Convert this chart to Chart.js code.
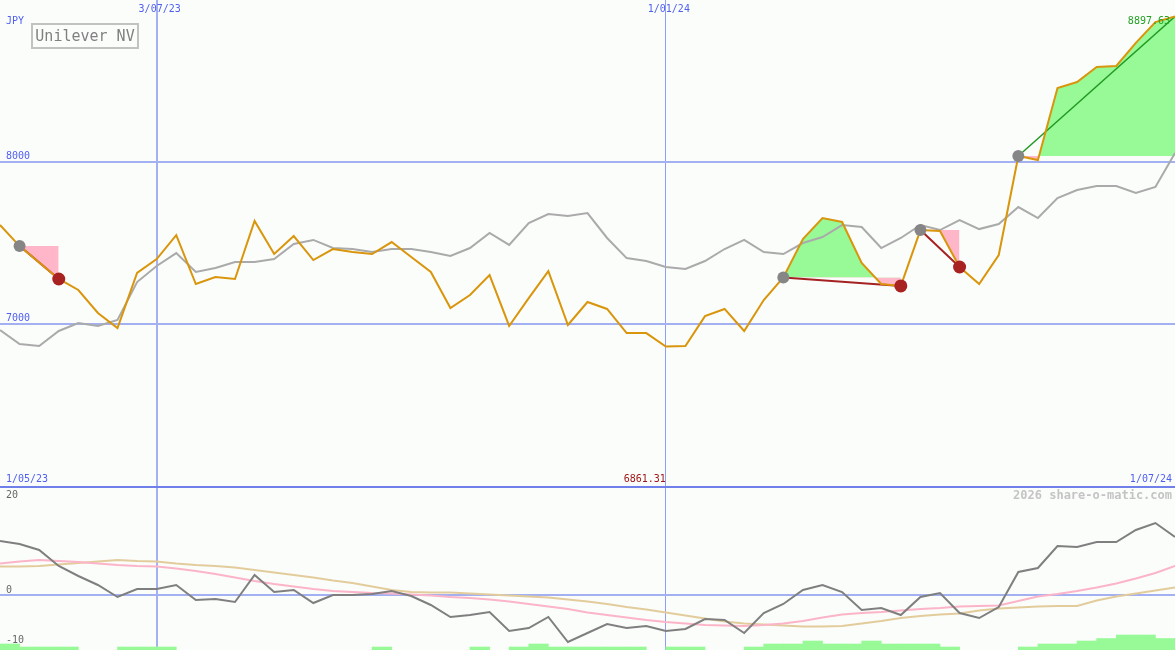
<!DOCTYPE html>
<html>
<head>
<meta charset="utf-8">
<title>Unilever NV</title>
<script src="https://cdn.jsdelivr.net/npm/chart.js@4.4.1/dist/chart.umd.min.js"></script>
<style>
  html, body { margin: 0; padding: 0; background: #fbfdfb; }
  canvas { display: block; }
</style>
</head>
<body>
<canvas id="chart" width="1175" height="650"></canvas>
<script>
// weekly closes, Unilever NV (JPY)
const weeks = ['8/05/23','15/05/23','22/05/23','29/05/23','5/06/23','12/06/23','19/06/23','26/06/23',
  '3/07/23','10/07/23','17/07/23','24/07/23','31/07/23','7/08/23','14/08/23','21/08/23','28/08/23',
  '4/09/23','11/09/23','18/09/23','25/09/23','2/10/23','9/10/23','16/10/23','23/10/23','30/10/23',
  '6/11/23','13/11/23','20/11/23','27/11/23','4/12/23','11/12/23','18/12/23','25/12/23',
  '1/01/24','8/01/24','15/01/24','22/01/24','29/01/24','5/02/24','12/02/24','19/02/24','26/02/24',
  '4/03/24','11/03/24','18/03/24','25/03/24','1/04/24','8/04/24','15/04/24','22/04/24','29/04/24',
  '6/05/24','13/05/24','20/05/24','27/05/24','3/06/24','10/06/24','17/06/24','24/06/24','1/07/24'];

const close = [7611,7481,7380,7278,7210,7068,6975,7315,7401,7549,7247,7290,7278,7636,7432,7543,7395,7463,7444,7432,
  7506,7414,7321,7099,7179,7302,6988,7160,7327,6994,7136,7093,6944,6944,6861.31,6864,7049,7093,6957,7148,
  7287,7525,7654,7630,7377,7247,7235,7580,7574,7352,7247,7426,8037,8012,8457,8494,8586,8593,8735,8864,8897.63];

// grey line (index average)
const avg = [6963,6877,6864,6957,7006,6988,7025,7259,7358,7438,7321,7346,7383,7383,7401,7494,7519,7469,7463,7444,
  7463,7463,7444,7420,7469,7562,7488,7623,7679,7667,7685,7531,7407,7389,7352,7340,7389,7463,7519,7444,
  7432,7500,7537,7611,7599,7469,7531,7611,7580,7642,7586,7617,7722,7654,7778,7827,7852,7852,7809,7846,8056];

// lower panel
const osc = [10.8,10.2,9.0,5.8,3.8,2.0,-0.4,1.2,1.2,2.0,-1.0,-0.8,-1.4,4.0,0.6,1.0,-1.6,0,0,0.2,
  0.8,-0.2,-2.0,-4.4,-4.0,-3.4,-7.2,-6.6,-4.4,-9.4,-7.6,-5.8,-6.6,-6.2,-7.2,-6.8,-4.8,-5.0,-7.6,-3.6,
  -1.8,1.0,2.0,0.6,-3.0,-2.6,-4.0,-0.4,0.4,-3.6,-4.6,-2.4,4.6,5.4,9.8,9.6,10.6,10.6,13.0,14.4,11.6];
const oscFast = [6.3,6.7,7.0,6.8,6.6,6.3,6.0,5.8,5.7,5.3,4.8,4.2,3.5,2.8,2.2,1.7,1.2,0.8,0.6,0.4,
  0.3,0.1,-0.1,-0.4,-0.6,-0.9,-1.3,-1.8,-2.3,-2.8,-3.5,-4.0,-4.5,-5.0,-5.4,-5.7,-6.0,-6.1,-6.2,-6.0,
  -5.7,-5.2,-4.5,-3.9,-3.6,-3.4,-3.1,-2.8,-2.6,-2.3,-2.2,-2.1,-1.2,-0.3,0.2,0.8,1.5,2.3,3.3,4.4,5.8];
const oscSlow = [5.7,5.7,5.8,6.1,6.4,6.7,7.0,6.8,6.7,6.3,6.0,5.8,5.5,5.0,4.5,4.0,3.5,2.9,2.4,1.7,
  1.0,0.6,0.5,0.5,0.3,0.1,-0.1,-0.3,-0.5,-0.9,-1.3,-1.8,-2.4,-2.9,-3.5,-4.1,-4.7,-5.3,-5.7,-5.9,
  -6.1,-6.3,-6.3,-6.2,-5.7,-5.2,-4.6,-4.2,-3.9,-3.7,-3.1,-2.7,-2.5,-2.3,-2.2,-2.2,-1.1,-0.3,0.3,0.9,1.5];
// green bars along the bottom (top value, null = none)
const bars = [-9.8,-10.4,-10.4,-10.4,null,null,-10.4,-10.4,-10.4,null,null,null,null,null,null,null,null,null,null,-10.4,
  null,null,null,null,-10.4,null,-10.4,-9.8,-10.4,-10.4,-10.4,-10.4,-10.4,null,-10.4,-10.4,null,null,-10.4,-9.8,
  -9.8,-9.2,-9.8,-9.8,-9.2,-9.8,-9.8,-9.8,-10.4,null,null,null,-10.4,-9.8,-9.8,-9.2,-8.7,-8.0,-8.0,-8.7,null];

// trades
const entryWeeks = ['15/05/23', '12/02/24', '1/04/24', '6/05/24'];
const exitWeeks = ['29/05/23', '25/03/24', '15/04/24', null];

const dateLines = ['3/07/23', '1/01/24'];
const dateLineWidths = [2, 1];
const priceLines = [7000, 8000];
const oscTicks = [20, 0, -10];
const rangeLabels = ['1/05/23', '1/07/24'];
const currency = 'JPY';
const title = 'Unilever NV';
const credit = '2026 share-o-matic.com';

const BLUE_TXT = '#4f5ff0';
const GRID = '#a3b1f3';
const GRID_THIN = '#8e9ef2';
const GRID_DARK = '#6f80ea';
const ORANGE = '#d9950c';
const UP = '#97fa97';
const DOWN = '#ffb6c8';

const pts = arr => arr.map((v, i) => ({x: i + 1, y: v}));
const trades = entryWeeks.map((w, k) => {
  const s = weeks.indexOf(w);
  const open = !exitWeeks[k];
  const e = open ? weeks.length - 1 : weeks.indexOf(exitWeeks[k]);
  return {s, e, open};
});

const datasets = [];
datasets.push({
  data: trades.map(t => ({x: t.s + 1, y: close[t.s]})),
  showLine: false, pointRadius: 6, pointBorderWidth: 0,
  pointBackgroundColor: '#868686', yAxisID: 'y'
});
datasets.push({
  data: trades.filter(t => !t.open).map(t => ({x: t.e + 1, y: close[t.e]})),
  showLine: false, pointRadius: 6.5, pointBorderWidth: 0,
  pointBackgroundColor: '#a82222', yAxisID: 'y'
});
datasets.push({data: pts(close), borderColor: ORANGE, borderWidth: 2, pointRadius: 0, yAxisID: 'y'});
trades.forEach(t => datasets.push({
  data: [{x: t.s + 1, y: close[t.s]}, {x: t.e + 1, y: close[t.e]}],
  borderColor: t.open ? '#229922' : '#a52222', borderWidth: t.open ? 1.5 : 2,
  pointRadius: 0, yAxisID: 'y'
}));
datasets.push({data: pts(avg), borderColor: '#aaaaaa', borderWidth: 2, pointRadius: 0, yAxisID: 'y'});
trades.forEach(t => datasets.push({
  data: close.slice(t.s, t.e + 1).map((v, k) => ({x: t.s + k + 1, y: v})),
  borderWidth: 0, pointRadius: 0, yAxisID: 'y',
  fill: {target: {value: close[t.s]}, above: UP, below: DOWN}
}));
datasets.push({data: pts(osc), borderColor: '#7f7f7f', borderWidth: 2, pointRadius: 0, yAxisID: 'y2'});
datasets.push({data: pts(oscFast), borderColor: '#fbb4c8', borderWidth: 2, pointRadius: 0, yAxisID: 'y2'});
datasets.push({data: pts(oscSlow), borderColor: '#e3cc9c', borderWidth: 2, pointRadius: 0, yAxisID: 'y2'});
datasets.push({
  type: 'bar', yAxisID: 'y2',
  data: bars.map((v, i) => v === null ? null : {x: i + 1.5, y: [-11, v]}).filter(d => d),
  backgroundColor: UP, borderWidth: 0, barPercentage: 1, categoryPercentage: 1
});

const textPlugin = {
  id: 'texts',
  afterDraw(chart) {
    const {ctx, scales: {x, y, y2}} = chart;
    ctx.save();
    ctx.font = '10px "DejaVu Sans Mono"';
    ctx.textBaseline = 'middle';
    ctx.fillStyle = BLUE_TXT;
    ctx.textAlign = 'left';
    ctx.fillText(currency, 6, 21);
    ctx.textAlign = 'center';
    dateLines.forEach(d => ctx.fillText(d, x.getPixelForValue(weeks.indexOf(d) + 1) + 3, 9));
    ctx.textAlign = 'left';
    priceLines.forEach(v => ctx.fillText(String(v), 6, y.getPixelForValue(v) - 6));

    const rowY = y2.top - 8;
    ctx.fillText(rangeLabels[0], 6, rowY);
    ctx.textAlign = 'right';
    ctx.fillText(rangeLabels[1], chart.width - 3, rowY);

    const lo = Math.min(...close), hi = Math.max(...close);
    const iLo = close.indexOf(lo), iHi = close.indexOf(hi);
    ctx.fillStyle = '#a01818';
    ctx.fillText(lo.toFixed(2), x.getPixelForValue(iLo + 1), rowY);
    ctx.fillStyle = '#22a022';
    ctx.fillText(hi.toFixed(2), x.getPixelForValue(iHi + 1) - 5, y.getPixelForValue(hi) + 5);

    ctx.fillStyle = '#666666';
    ctx.textAlign = 'left';
    oscTicks.forEach(v => ctx.fillText(String(v), 6, Math.max(y2.getPixelForValue(v) - 5, y2.top + 8)));

    ctx.font = 'bold 12px "DejaVu Sans Mono"';
    ctx.fillStyle = '#c4c4c4';
    ctx.textAlign = 'right';
    ctx.fillText(credit, chart.width - 3, y2.top + 9);

    ctx.fillStyle = '#fbfdfb';
    ctx.fillRect(32, 24, 106, 24);
    ctx.strokeStyle = '#c2c2c2';
    ctx.lineWidth = 2;
    ctx.strokeRect(32, 24, 106, 24);
    ctx.font = '15px "DejaVu Sans Mono"';
    ctx.fillStyle = '#808080';
    ctx.textAlign = 'center';
    ctx.fillText(title, 85, 37);
    ctx.restore();
  }
};

new Chart(document.getElementById('chart'), {
  type: 'line',
  data: {datasets},
  plugins: [textPlugin],
  options: {
    responsive: false,
    animation: false,
    devicePixelRatio: 1,
    layout: {padding: 0, autoPadding: false},
    plugins: {legend: {display: false}, tooltip: {enabled: false}},
    scales: {
      x: {
        type: 'linear', min: 1, max: weeks.length, offset: false,
        ticks: {display: false, padding: 0},
        border: {display: false},
        grid: {
          offset: false, drawTicks: false,
          color: c => c.index === 0 ? GRID : GRID_THIN,
          lineWidth: c => dateLineWidths[c.index] || 1
        },
        afterBuildTicks: s => { s.ticks = dateLines.map(d => ({value: weeks.indexOf(d) + 1})); }
      },
      y: {
        position: 'right', stack: 'panes', stackWeight: 487,
        min: 5994, max: 9000,
        ticks: {display: false, padding: 0},
        border: {display: false},
        grid: {color: GRID, lineWidth: 2, drawTicks: false},
        afterBuildTicks: s => { s.ticks = priceLines.map(v => ({value: v})); }
      },
      y2: {
        position: 'right', stack: 'panes', stackWeight: 163,
        min: -11, max: 21.6, beginAtZero: false,
        ticks: {display: false, padding: 0},
        border: {display: false},
        grid: {
          color: c => c.tick.value === 0 ? GRID : GRID_DARK,
          lineWidth: 2, drawTicks: false
        },
        afterBuildTicks: s => { s.ticks = [{value: 21.6}, {value: 0}]; }
      }
    }
  }
});
</script>
</body>
</html>
